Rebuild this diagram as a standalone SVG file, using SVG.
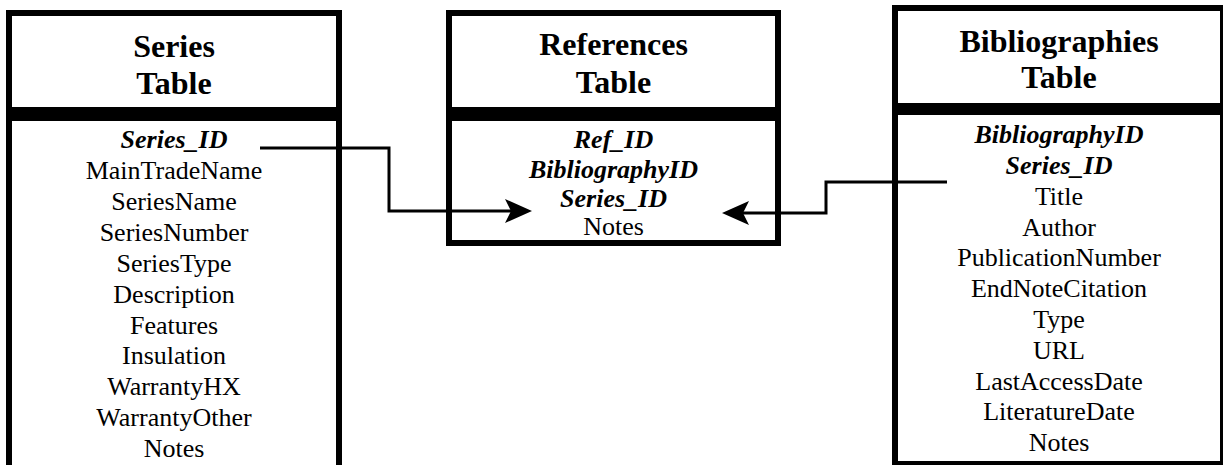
<svg xmlns="http://www.w3.org/2000/svg" width="1223" height="465" viewBox="0 0 1223 465">
<style>
.box{fill:none;stroke:#000;stroke-width:6}
.bar{fill:#000}
.hd{font-family:"Liberation Serif","Times New Roman",serif;font-weight:bold;font-size:32px;text-anchor:middle;fill:#000}
.f{font-family:"Liberation Serif","Times New Roman",serif;font-size:26px;text-anchor:middle;fill:#000}
.k{font-weight:bold;font-style:italic}
.con{fill:none;stroke:#000;stroke-width:3}
</style>
<defs>
<marker id="arr" viewBox="-16 -13 29 26" refX="0" refY="0" markerWidth="29" markerHeight="26" markerUnits="userSpaceOnUse" orient="auto">
<path d="M12,0 L-15,-12 L-9,0 L-15,12 Z" fill="#000"/>
</marker>
</defs>
<rect width="1223" height="465" fill="#fff"/>
<g id="series">
<path class="box" d="M9,470 V13 H339 V470"/>
<rect class="bar" x="6" y="107" width="336" height="14"/>
<text class="hd" x="174" y="57">Series</text>
<text class="hd" x="174" y="94">Table</text>
<text class="f k" x="174" y="148">Series_ID</text>
<text class="f" x="174" y="179">MainTradeName</text>
<text class="f" x="174" y="210">SeriesName</text>
<text class="f" x="174" y="240.5">SeriesNumber</text>
<text class="f" x="174" y="271.5">SeriesType</text>
<text class="f" x="174" y="302.5">Description</text>
<text class="f" x="174" y="333.5">Features</text>
<text class="f" x="174" y="364">Insulation</text>
<text class="f" x="174" y="395">WarrantyHX</text>
<text class="f" x="174" y="426">WarrantyOther</text>
<text class="f" x="174" y="457">Notes</text>
</g>
<g id="references">
<rect class="box" x="449" y="13" width="329" height="230"/>
<rect class="bar" x="446" y="107" width="335" height="14"/>
<text class="hd" x="613.5" y="55">References</text>
<text class="hd" x="613.5" y="93">Table</text>
<text class="f k" x="613.5" y="148">Ref_ID</text>
<text class="f k" x="613.5" y="177.5">BibliographyID</text>
<text class="f k" x="613.5" y="207">Series_ID</text>
<text class="f" x="613.5" y="235">Notes</text>
</g>
<g id="bibliographies">
<rect class="box" x="895" y="8" width="328" height="456"/>
<rect class="bar" x="892" y="103" width="334" height="12"/>
<text class="hd" x="1059" y="52">Bibliographies</text>
<text class="hd" x="1059" y="88">Table</text>
<text class="f k" x="1059" y="143">BibliographyID</text>
<text class="f k" x="1059" y="174">Series_ID</text>
<text class="f" x="1059" y="204.5">Title</text>
<text class="f" x="1059" y="235.5">Author</text>
<text class="f" x="1059" y="266">PublicationNumber</text>
<text class="f" x="1059" y="297">EndNoteCitation</text>
<text class="f" x="1059" y="328">Type</text>
<text class="f" x="1059" y="358.5">URL</text>
<text class="f" x="1059" y="389.5">LastAccessDate</text>
<text class="f" x="1059" y="420">LiteratureDate</text>
<text class="f" x="1059" y="451">Notes</text>
</g>
<g id="connectors">
<path class="con" d="M260,148 H389 V211 H520" marker-end="url(#arr)"/>
<path class="con" d="M947,182 H826 V213 H734" marker-end="url(#arr)"/>
</g>
</svg>
